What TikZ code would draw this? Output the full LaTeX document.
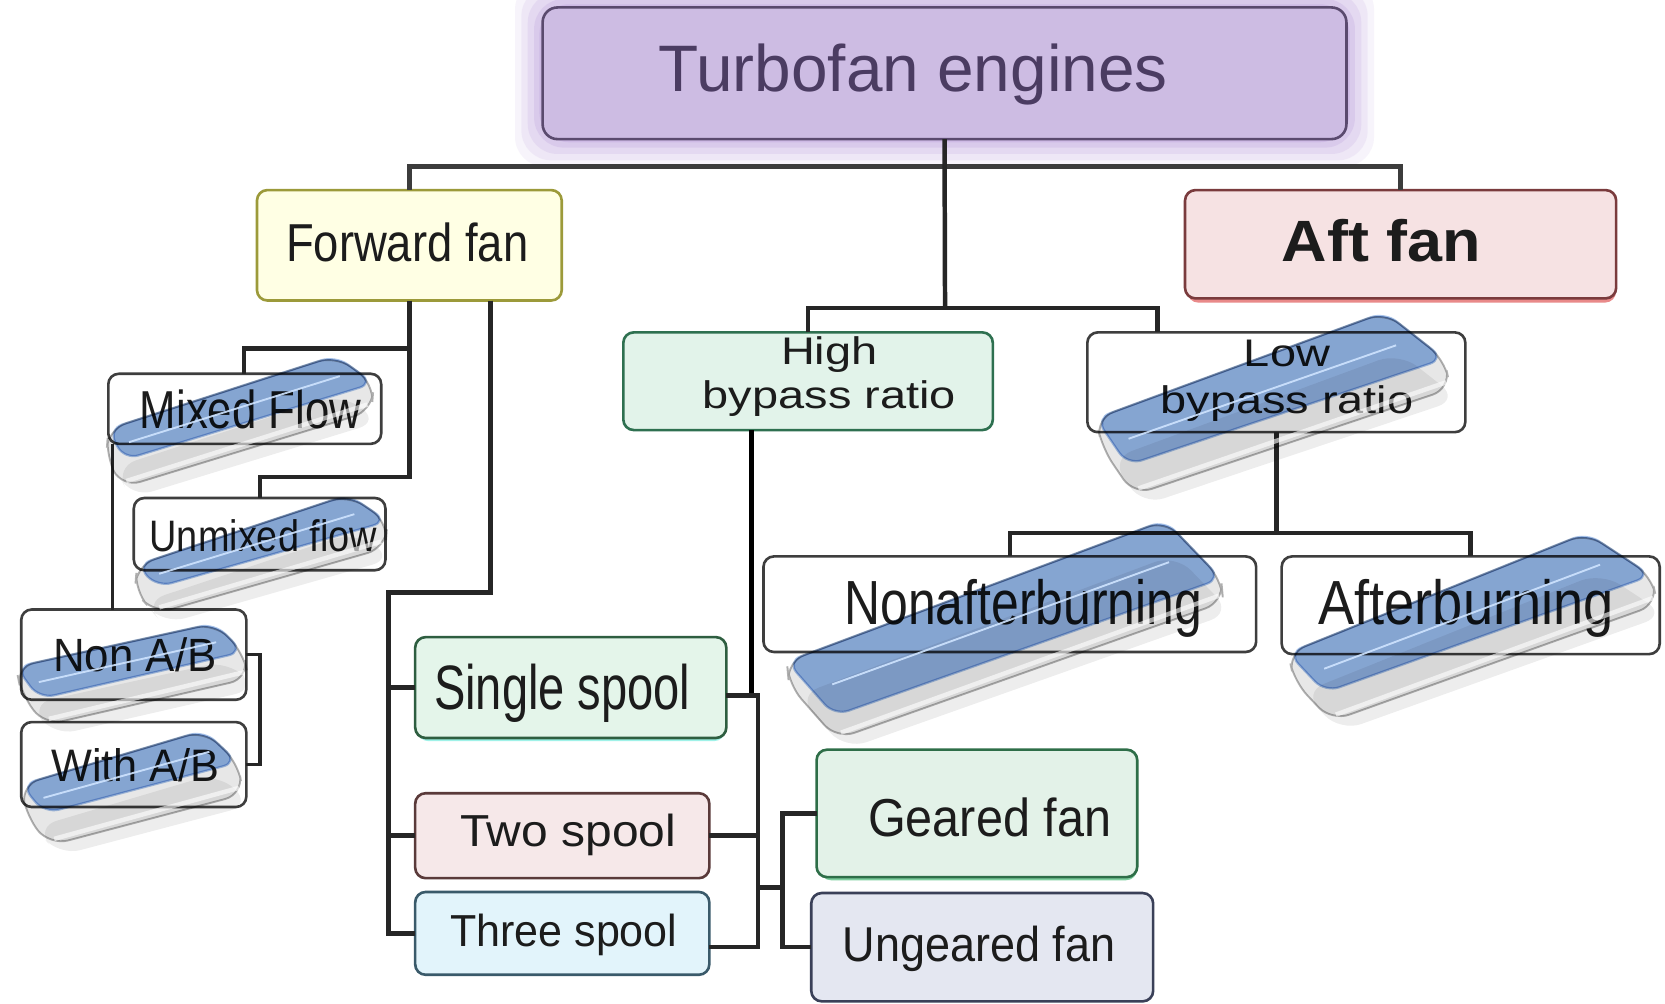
\documentclass[tikz,border=0pt]{standalone}
\usepackage{fontspec}
\setmainfont{Liberation Sans}
\usetikzlibrary{fit,calc}

\definecolor{ink}{HTML}{1C1C1C}
\definecolor{wire}{HTML}{262626}
\definecolor{turboF}{HTML}{CDBCE3}
\definecolor{turboD}{HTML}{5A4A6E}
\definecolor{turboT}{HTML}{4B3C62}
\definecolor{glowc}{HTML}{B597DA}
\definecolor{fwdF}{HTML}{FFFFE4}
\definecolor{fwdD}{HTML}{9C9A3A}
\definecolor{aftF}{HTML}{F6E2E3}
\definecolor{aftD}{HTML}{7A3B3D}
\definecolor{aftG}{HTML}{E98A8A}
\definecolor{hiF}{HTML}{E2F3EA}
\definecolor{hiD}{HTML}{2E7050}
\definecolor{sgF}{HTML}{E4F5EA}
\definecolor{sgD}{HTML}{2E5E40}
\definecolor{sgG}{HTML}{9FF2E8}
\definecolor{twF}{HTML}{F6E8E9}
\definecolor{twD}{HTML}{5A3A3A}
\definecolor{thF}{HTML}{E2F4FB}
\definecolor{thD}{HTML}{3A5A6A}
\definecolor{geF}{HTML}{E3F2E8}
\definecolor{geD}{HTML}{2E6E48}
\definecolor{geG}{HTML}{7FCF9F}
\definecolor{ugF}{HTML}{E4E7F1}
\definecolor{ugD}{HTML}{3A4058}
\definecolor{slab}{HTML}{E2E2E2}
\definecolor{slabedge}{HTML}{A0A0A0}
\definecolor{glass}{HTML}{82AAE4}
\definecolor{glassedge}{HTML}{A9C4EA}
\definecolor{glintc}{HTML}{CFE4FF}

% horizontal squeeze of a label, font size helper
\newcommand{\hs}[2]{\scalebox{#1}[1]{#2}}
\newcommand{\fsz}[2]{\fontsize{#1}{#2}\selectfont}

% glossy slab: upper-left, upper-right, lower-right, lower-left corners of the top face, then the slab depth
\newcommand{\glossbar}[6]{%
  \fill[barshade] ($(#1)+(#5,#6)+(8,10)$) -- ($(#2)+(#5,#6)+(8,10)$) -- ($(#3)+(#5,#6)+(8,10)$) -- ($(#4)+(#5,#6)+(8,10)$) -- cycle;
  \filldraw[barside] (#1) -- (#2) -- (#3) -- ($(#3)+(#5,#6)$) -- ($(#4)+(#5,#6)$) -- ($(#1)+(#5,#6)$) -- cycle;
  \draw[barrim] ($(#4)+(#5,#6)+(4,-6)$) -- ($(#3)+(#5,#6)+(-4,-6)$);
  \filldraw[bartop] (#1) -- (#2) -- (#3) -- (#4) -- cycle;
  \coordinate (gA) at ($(#1)!0.55!(#4)$);
  \coordinate (gB) at ($(#2)!0.55!(#3)$);
  \draw[glint] ($(gA)!0.05!(gB)$) -- ($(gA)!0.93!(gB)$);
}

\begin{document}
\begin{tikzpicture}[x=0.01cm, y=-0.01cm,
  box/.style 2 args={rounded corners=2.8pt, fill=#1, draw=#2, line width=0.7pt, inner sep=0pt, outer sep=0pt},
  plainbox/.style={box={white}{ink!85}},
  conn/.style={draw=wire, line width=1.2pt},
  connT/.style={draw=wire!90, line width=1.4pt},
  connK/.style={draw=black, line width=1.3pt},
  connS/.style={draw=wire, line width=0.6pt},
  connM/.style={draw=wire, line width=0.9pt},
  lab/.style={anchor=base, inner sep=0pt, outer sep=0pt, text=ink},
  barshade/.style={fill=black, fill opacity=0.07, rounded corners=6pt},
  barside/.style={fill=slab, fill opacity=0.8, draw=slabedge, draw opacity=0.8, line width=0.5pt, rounded corners=5pt, blend mode=multiply},
  barrim/.style={draw=white, line width=1.2pt, opacity=0.6},
  bartop/.style={fill=glass, fill opacity=0.85, draw=glassedge, line width=0.6pt, rounded corners=4pt, blend mode=multiply},
  glint/.style={draw=glintc, line width=0.5pt, opacity=0.9}
]
\useasboundingbox (0,0) rectangle (1568,945);
\fill[white] (0,0) rectangle (1568,945);

% soft halo round the root box
\foreach \g/\o in {26/0.10, 20/0.13, 14/0.17, 8/0.22, 3/0.3}
  \fill[glowc, opacity=\o, rounded corners=8pt] ({511-\g},{7-\g}) rectangle ({1268+\g},{131+\g});

% coloured rims under some boxes
\fill[aftG, rounded corners=3pt] (1118,184) rectangle (1522,285);
\fill[sgG, rounded corners=3pt] (393,604) rectangle (683,698);
\fill[geG, rounded corners=3pt] (772,706) rectangle (1071,829);

% ---------- boxes ----------
\node[box={turboF}{turboD}, rounded corners=4pt, fit={(511,7) (1268,131)}] (turbo) {};
\node[box={fwdF}{fwdD}, fit={(242,179) (529,283)}] (fwd) {};
\node[box={aftF}{aftD}, fit={(1116,179) (1522,281)}] (aft) {};
\node[box={hiF}{hiD}, fit={(587,313) (935,405)}] (high) {};
\node[plainbox, fit={(1024,313) (1380,407)}] (low) {};
\node[plainbox, fit={(102,352) (359,418)}] (mixed) {};
\node[plainbox, fit={(126,469) (363,537)}] (unmixed) {};
\node[plainbox, fit={(20,574) (232,659)}] (nonab) {};
\node[plainbox, fit={(20,680) (232,760)}] (withab) {};
\node[box={sgF}{sgD}, fit={(391,600) (684,695)}] (single) {};
\node[box={twF}{twD}, fit={(391,747) (668,827)}] (two) {};
\node[box={thF}{thD}, fit={(391,840) (668,918)}] (three) {};
\node[box={geF}{geD}, fit={(769,706) (1071,826)}] (geared) {};
\node[box={ugF}{ugD}, fit={(764,841) (1086,943)}] (ungeared) {};
\node[plainbox, fit={(719,524) (1183,614)}] (nonaft) {};
\node[plainbox, fit={(1207,524) (1563,616)}] (aftb) {};

% ---------- guide coordinates ----------
\coordinate (busT) at (890,157);
\coordinate (hub2) at (890,290);
\coordinate (hub3) at (1202,502);
\coordinate (xLo) at (1090,0);
\coordinate (xF2) at (462,0);
\coordinate (xMx) at (230,0);
\coordinate (xUm) at (245,0);
\coordinate (xM) at (106,0);
\coordinate (xAB) at (245,0);
\coordinate (xSp) at (366,0);
\coordinate (xHb) at (708,0);
\coordinate (xBr) at (714,0);
\coordinate (xGf) at (737,0);
\coordinate (yMx) at (0,328);
\coordinate (yUm) at (0,449);
\coordinate (ySp) at (0,558);
\coordinate (yA) at (0,655);
\coordinate (yC) at (0,892);
\coordinate (yG) at (0,836);

% ---------- connectors ----------
\draw[connT] (fwd.north) |- (busT) -| (aft.north);
\draw[conn] (turbo.south) -- (hub2);
\draw[conn] (high.north) |- (hub2) -| (xLo |- low.north);

\draw[conn] (fwd.south) -- (fwd.south |- yUm) -| (xUm |- unmixed.north);
\draw[conn] (fwd.south |- yMx) -| (xMx |- mixed.north);
\draw[connS] (xM |- mixed.south) -- (xM |- nonab.north);
\draw[connM] (nonab.east) -| (xAB |- withab.east) -- (withab.east);

\draw[conn] (xF2 |- fwd.south) |- (xSp |- ySp) |- (three.west);
\draw[conn] (xSp |- single.west) -- (single.west);
\draw[conn] (xSp |- two.west) -- (two.west);

\draw[connK] (xHb |- high.south) -- (xHb |- yA);
\draw[conn] (single.east |- yA) -| (xBr |- yC) -- (three.east |- yC);
\draw[conn] (two.east) -- (xBr |- two.east);
\draw[conn] (xBr |- yG) -- (xGf |- yG);
\draw[conn] (geared.west) -| (xGf |- ungeared.west) -- (ungeared.west);

\draw[conn] (low.south) -- (hub3);
\draw[conn] (nonaft.north) |- (hub3) -| (aftb.north);

% ---------- labels ----------
\node[lab, text=turboT, font=\fsz{17.6pt}{20pt}] (turbo-t) at (860,86.5) {Turbofan engines};
\node[lab, font=\fsz{14.3pt}{16pt}] (fwd-t) at (383.5,246.4) {\hs{0.85}{Forward fan}};
\node[lab, font=\bfseries\fsz{15.6pt}{18pt}] (aft-t) at (1301,246.4) {\hs{1.08}{Aft fan}};
\node[lab, font=\fsz{10.3pt}{11.6pt}] (high-t) at (781,343.7)
  {\hs{1.22}{\begin{tabular}[t]{@{}c@{}}High\\bypass ratio\end{tabular}}};
\node[lab, font=\fsz{10.3pt}{12.5pt}] (low-t) at (1212,345)
  {\hs{1.22}{\begin{tabular}[t]{@{}c@{}}Low\\bypass ratio\end{tabular}}};
\node[lab, font=\fsz{14.3pt}{16pt}] (mixed-t) at (236,403.4) {\hs{0.82}{Mixed Flow}};
\node[lab, font=\fsz{11.8pt}{14pt}] (unmixed-t) at (248,519.5) {\hs{0.86}{Unmixed flow}};
\node[lab, font=\fsz{12.5pt}{14pt}] (nonab-t) at (127,632.5) {\hs{0.94}{Non A/B}};
\node[lab, font=\fsz{12.2pt}{14pt}] (withab-t) at (127.5,736) {\hs{0.95}{With A/B}};
\node[lab, font=\fsz{16.8pt}{19pt}] (single-t) at (529.5,668.6) {\hs{0.75}{Single spool}};
\node[lab, font=\fsz{12pt}{14pt}] (two-t) at (535,797.3) {\hs{1.07}{Two spool}};
\node[lab, font=\fsz{12pt}{14pt}] (three-t) at (531,891.5) {\hs{0.96}{Three spool}};
\node[lab, font=\fsz{14.3pt}{16pt}] (geared-t) at (932,787.9) {\hs{0.91}{Geared fan}};
\node[lab, font=\fsz{13.1pt}{15pt}] (ungeared-t) at (922,905.6) {\hs{0.92}{Ungeared fan}};
\node[lab, font=\fsz{16.7pt}{19pt}] (nonaft-t) at (963.7,588) {\hs{0.80}{Nonafterburning}};
\node[lab, font=\fsz{16.7pt}{19pt}] (aftb-t) at (1380.7,588) {\hs{0.87}{Afterburning}};

% ---------- glossy slabs lying over the plain boxes ----------
\glossbar{102,404}{316,335}{352,361}{117,433}{-2}{26}
\glossbar{129,532}{328,466}{365,491}{148,553}{-2}{25}
\glossbar{15,628}{202,587}{229,614}{37,658}{5}{25}
\glossbar{20,739}{192,688}{224,718}{42,766}{5}{30}
\glossbar{1032,394}{1304,294}{1360,338}{1062,438}{6}{28}
\glossbar{741,623}{1097,490}{1150,545}{786,674}{2}{22}
\glossbar{1213,615}{1494,502}{1555,542}{1248,652}{6}{27}
\end{tikzpicture}
\end{document}
